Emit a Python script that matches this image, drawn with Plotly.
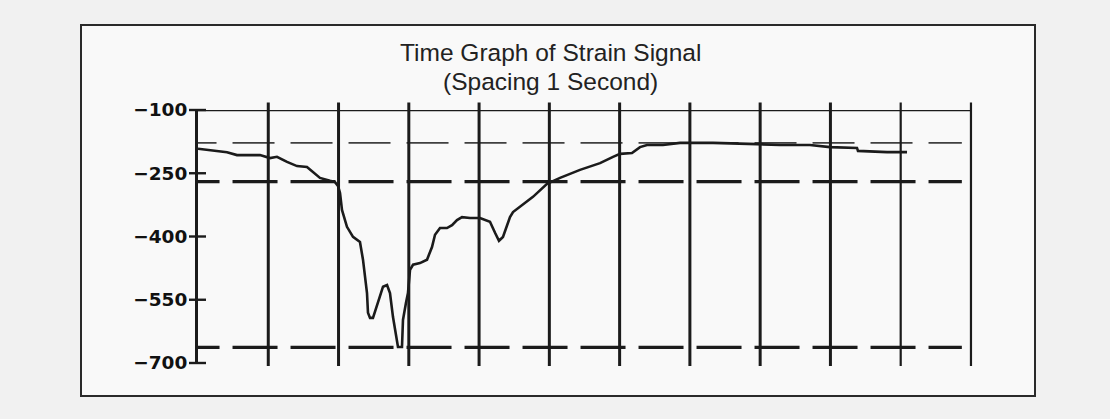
import plotly.graph_objects as go

# ---------------- data ----------------
time_s = [0.000, 0.171, 0.413, 0.555, 0.882, 1.025, 1.124, 1.267, 1.409, 1.551,
          1.636, 1.736, 1.878, 1.950, 1.992, 2.021, 2.049, 2.120, 2.206, 2.305,
          2.348, 2.405, 2.419, 2.448, 2.490, 2.562, 2.633, 2.690, 2.732, 2.775,
          2.832, 2.846, 2.903, 2.917, 2.960, 2.988, 3.017, 3.060, 3.159, 3.259,
          3.330, 3.373, 3.444, 3.543, 3.615, 3.686, 3.757, 3.871, 4.013, 4.155,
          4.227, 4.283, 4.340, 4.440, 4.483, 4.625, 4.767, 4.967, 5.152, 5.436,
          5.721, 5.906, 6.006, 6.176, 6.290, 6.390, 6.617, 6.859, 7.329, 7.955,
          8.282, 8.709, 8.994, 9.378, 9.392, 9.805, 10.090]
strain = [-192, -195, -200, -207, -207, -214, -211, -223, -233, -235,
          -247, -261, -268, -271, -280, -297, -337, -377, -401, -413,
          -455, -534, -581, -593, -593, -557, -519, -515, -534, -591,
          -645, -662, -662, -598, -557, -534, -479, -467, -463, -455,
          -425, -396, -380, -380, -373, -361, -354, -356, -356, -365,
          -391, -410, -401, -354, -342, -325, -306, -275, -261, -242,
          -226, -211, -204, -202, -188, -183, -183, -178, -178, -181,
          -183, -183, -188, -190, -197, -200, -200]

mean_level = -178
limit_levels = [-270, -663]

second_marks = list(range(1, 12))          # vertical lines, 1 s spacing
y_ticks = [-100, -250, -400, -550, -700]
y_tick_labels = ["\u2212100", "\u2212250", "\u2212400", "\u2212550", "\u2212700"]

title_line1 = "Time Graph of Strain Signal"
title_line2 = "(Spacing 1 Second)"

# ---------------- styling ----------------
INK = "#1b1b1b"
BOX_FILL = "#f9f9f9"
PAPER = "#f1f1f1"
line_start, line_end = -0.334, 10.87
x_range = [0, 11.1]
y_range = [-700, -100]
PLOT_W, PLOT_H = 780, 253

fig = go.Figure()

# threshold lines
fig.add_trace(go.Scatter(x=[line_start, line_end], y=[mean_level, mean_level],
                         mode="lines", line=dict(color="#404040", width=1.8, dash="42px,16px"),
                         hoverinfo="skip", showlegend=False))
for lv in limit_levels:
    fig.add_trace(go.Scatter(x=[line_start, line_end], y=[lv, lv],
                             mode="lines", line=dict(color=INK, width=3.2, dash="45px,13px"),
                             hoverinfo="skip", showlegend=False))

# signal
fig.add_trace(go.Scatter(x=time_s, y=strain, mode="lines",
                         line=dict(color=INK, width=2.6),
                         hoverinfo="skip", showlegend=False))

shapes = []
# outer box
shapes.append(dict(type="rect", xref="paper", yref="paper",
                   x0=(81 - 198) / PLOT_W, x1=(1035 - 198) / PLOT_W,
                   y0=(363 - 396) / PLOT_H, y1=(363 - 25) / PLOT_H,
                   fillcolor=BOX_FILL, line=dict(color="#2a2a2a", width=2), layer="below"))
# vertical second lines
for s in second_marks:
    shapes.append(dict(type="line", xref="x", yref="paper", x0=s, x1=s,
                       y0=-0.012, y1=1.03,
                       line=dict(color=INK, width=3 if s < 10 else 2.2)))
# top border line
shapes.append(dict(type="line", xref="x", yref="y", x0=0, x1=second_marks[-1],
                   y0=y_range[1], y1=y_range[1], line=dict(color=INK, width=2.6)))
# crossing y ticks
for t in y_ticks:
    yp = (t - y_range[0]) / (y_range[1] - y_range[0])
    shapes.append(dict(type="line", xref="paper", yref="paper", x0=-9 / PLOT_W, x1=8 / PLOT_W,
                       y0=yp, y1=yp, line=dict(color=INK, width=2.4)))

fig.update_layout(
    width=1110, height=419,
    margin=dict(l=198, r=1110 - 198 - PLOT_W, t=110, b=419 - 363, pad=0),
    paper_bgcolor=PAPER, plot_bgcolor=BOX_FILL,
    shapes=shapes,
    showlegend=False,
    xaxis=dict(range=x_range, showgrid=False, zeroline=False, showline=False,
               showticklabels=False, ticks=""),
    yaxis=dict(range=y_range, showgrid=False, zeroline=False, showline=True,
               linecolor=INK, linewidth=3, ticks="", ticklabelstandoff=4,
               tickvals=y_ticks, ticktext=y_tick_labels,
               tickfont=dict(family="DejaVu Sans", size=18.5, color="#111", weight="bold")),
    annotations=[
        dict(text=title_line1, xref="paper", yref="paper", x=(550 - 198) / PLOT_W,
             y=(363 - 53) / PLOT_H, xanchor="center", yanchor="middle", showarrow=False,
             font=dict(family="Liberation Sans", size=24.5, color="#222")),
        dict(text=title_line2, xref="paper", yref="paper", x=(550 - 198) / PLOT_W,
             y=(363 - 81) / PLOT_H, xanchor="center", yanchor="middle", showarrow=False,
             font=dict(family="Liberation Sans", size=24.5, color="#222")),
    ],
)

fig.write_html("out.html", config={"displayModeBar": False},
               post_script="document.body.style.margin='0';document.body.style.overflow='hidden';")
